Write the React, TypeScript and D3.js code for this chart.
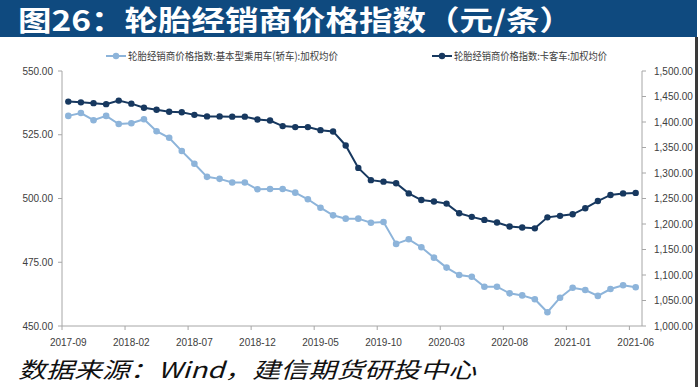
import React from "react";
import * as d3 from "d3";

const months = [
  "2017-09", "2017-10", "2017-11", "2017-12", "2018-01", "2018-02", "2018-03", "2018-04",
  "2018-05", "2018-06", "2018-07", "2018-08", "2018-09", "2018-10", "2018-11", "2018-12",
  "2019-01", "2019-02", "2019-03", "2019-04", "2019-05", "2019-06", "2019-07", "2019-08",
  "2019-09", "2019-10", "2019-11", "2019-12", "2020-01", "2020-02", "2020-03", "2020-04",
  "2020-05", "2020-06", "2020-07", "2020-08", "2020-09", "2020-10", "2020-11", "2020-12",
  "2021-01", "2021-02", "2021-03", "2021-04", "2021-05", "2021-06",
];

// 基本型乘用车(轿车) - left axis
const carPrice = [
  532.4, 533.5, 530.7, 532.4, 529.2, 529.5, 531.1, 526.4, 523.8, 518.6, 513.6, 508.5, 507.7,
  506.3, 506.3, 503.6, 503.7, 503.7, 502.3, 499.7, 496.4, 493.4, 492.1, 492.1,
  490.5, 490.8, 482.2, 484.0, 480.9, 476.8, 472.9, 470.0, 469.3, 465.4, 465.4, 462.8,
  462.0, 460.5, 455.4, 461.1, 465.0, 464.1, 461.8, 464.5, 466.0, 465.2,
];

// 卡客车 - right axis
const truckPrice = [
  1440, 1438.5, 1437, 1435, 1442, 1436, 1428, 1424, 1420, 1419, 1414, 1411, 1411,
  1410.5, 1410.5, 1405, 1403, 1392, 1390, 1390, 1384, 1381.5,
  1354, 1310, 1286, 1283, 1280, 1260, 1247, 1244, 1240, 1221, 1214, 1208, 1203, 1195,
  1193, 1191.5, 1213, 1216, 1219, 1231, 1245, 1257, 1260, 1261,
];

const xTickLabels = [
  "2017-09", "2018-02", "2018-07", "2018-12", "2019-05",
  "2019-10", "2020-03", "2020-08", "2021-01", "2021-06",
];
const leftTicks = [450, 475, 500, 525, 550];
const rightTicks = [1000, 1050, 1100, 1150, 1200, 1250, 1300, 1350, 1400, 1450, 1500];

const seriesNames = [
  "轮胎经销商价格指数:基本型乘用车(轿车):加权均价",
  "轮胎经销商价格指数:卡客车:加权均价",
];

const LIGHT = "#8db4da";
const DARK = "#17385f";
const AXIS = "#a6a6a6";
const LABEL = "#404040";
const numFont = "'Liberation Sans Narrow', 'Liberation Sans', Arial, sans-serif";
const cjkFont = "'Noto Sans CJK SC', sans-serif";

const App = () => {
  const left = 62, right = 642, top = 71, bottom = 326;

  const x = d3.scaleBand().domain(months).range([left, right]).padding(0);
  const yL = d3.scaleLinear().domain([450, 550]).range([bottom, top]);
  const yR = d3.scaleLinear().domain([1000, 1500]).range([bottom, top]);
  const cx = (m: string) => (x(m) as number) + x.bandwidth() / 2;

  const lineL = d3.line<number>().x((_, i) => cx(months[i])).y((d) => yL(d));
  const lineR = d3.line<number>().x((_, i) => cx(months[i])).y((d) => yR(d));

  const fL = d3.format(".2f");
  const fR = d3.format(",.2f");

  return (
    <svg
      width={699}
      height={387}
      style={{ position: "absolute", left: 0, top: 0, background: "#fff" }}
    >
      {/* title bar */}
      <rect x={0} y={0} width={697} height={37} fill="#0f4a7f" />
      <text
        x={18}
        y={31}
        fill="#fff"
        fontSize={28}
        fontWeight="bold"
        fontFamily={cjkFont}
        textLength={555}
        lengthAdjust="spacingAndGlyphs"
      >
        图26：轮胎经销商价格指数（元/条）
      </text>
      <rect x={695} y={37} width={3} height={350} fill="#3a3a3a" />

      {/* legend */}
      <g>
        <line x1={106} x2={126} y1={56} y2={56} stroke={LIGHT} strokeWidth={2} />
        <circle cx={116} cy={56} r={3.2} fill={LIGHT} />
        <text x={128} y={60} fontSize={10.5} fill={LABEL} fontFamily={cjkFont}
          textLength={210} lengthAdjust="spacingAndGlyphs">{seriesNames[0]}</text>
        <line x1={432} x2={452} y1={56} y2={56} stroke={DARK} strokeWidth={2} />
        <circle cx={442} cy={56} r={3.2} fill={DARK} />
        <text x={454} y={60} fontSize={10.5} fill={LABEL} fontFamily={cjkFont}
          textLength={153} lengthAdjust="spacingAndGlyphs">{seriesNames[1]}</text>
      </g>

      {/* axes */}
      <g stroke={AXIS} strokeWidth={1} fill="none">
        <line x1={left} x2={left} y1={top} y2={bottom} />
        <line x1={right} x2={right} y1={top} y2={bottom} />
        <line x1={left} x2={right} y1={bottom} y2={bottom} />
        {leftTicks.map((t) => (
          <line key={"lt" + t} x1={left - 4} x2={left} y1={yL(t)} y2={yL(t)} />
        ))}
        {rightTicks.map((t) => (
          <line key={"rt" + t} x1={right} x2={right + 4} y1={yR(t)} y2={yR(t)} />
        ))}
        {xTickLabels.map((m) => (
          <line key={"xt" + m} x1={x(m)} x2={x(m)} y1={bottom} y2={bottom + 4} />
        ))}
      </g>

      <g fontFamily={numFont} fontSize={10} fill={LABEL}>
        {leftTicks.map((t) => (
          <text key={"ll" + t} x={53} y={yL(t) + 3.5} textAnchor="end">{fL(t)}</text>
        ))}
        {rightTicks.map((t) => (
          <text key={"rl" + t} x={654} y={yR(t) + 3.5}>{fR(t)}</text>
        ))}
        {xTickLabels.map((m) => (
          <text key={"xl" + m} x={cx(m)} y={346} textAnchor="middle">{m}</text>
        ))}
      </g>

      {/* series */}
      <path d={lineL(carPrice) || ""} fill="none" stroke={LIGHT} strokeWidth={2} />
      {carPrice.map((v, i) => (
        <circle key={"c" + i} cx={cx(months[i])} cy={yL(v)} r={3.3} fill={LIGHT} />
      ))}
      <path d={lineR(truckPrice) || ""} fill="none" stroke={DARK} strokeWidth={2} />
      {truckPrice.map((v, i) => (
        <circle key={"t" + i} cx={cx(months[i])} cy={yR(v)} r={3.2} fill={DARK} />
      ))}

      {/* source */}
      <text
        x={18}
        y={378}
        fontSize={22}
        fontStyle="italic"
        fill="#111"
        fontFamily={cjkFont}
        textLength={458}
        lengthAdjust="spacingAndGlyphs"
      >
        数据来源：Wind，建信期货研投中心
      </text>
    </svg>
  );
};

export default App;
